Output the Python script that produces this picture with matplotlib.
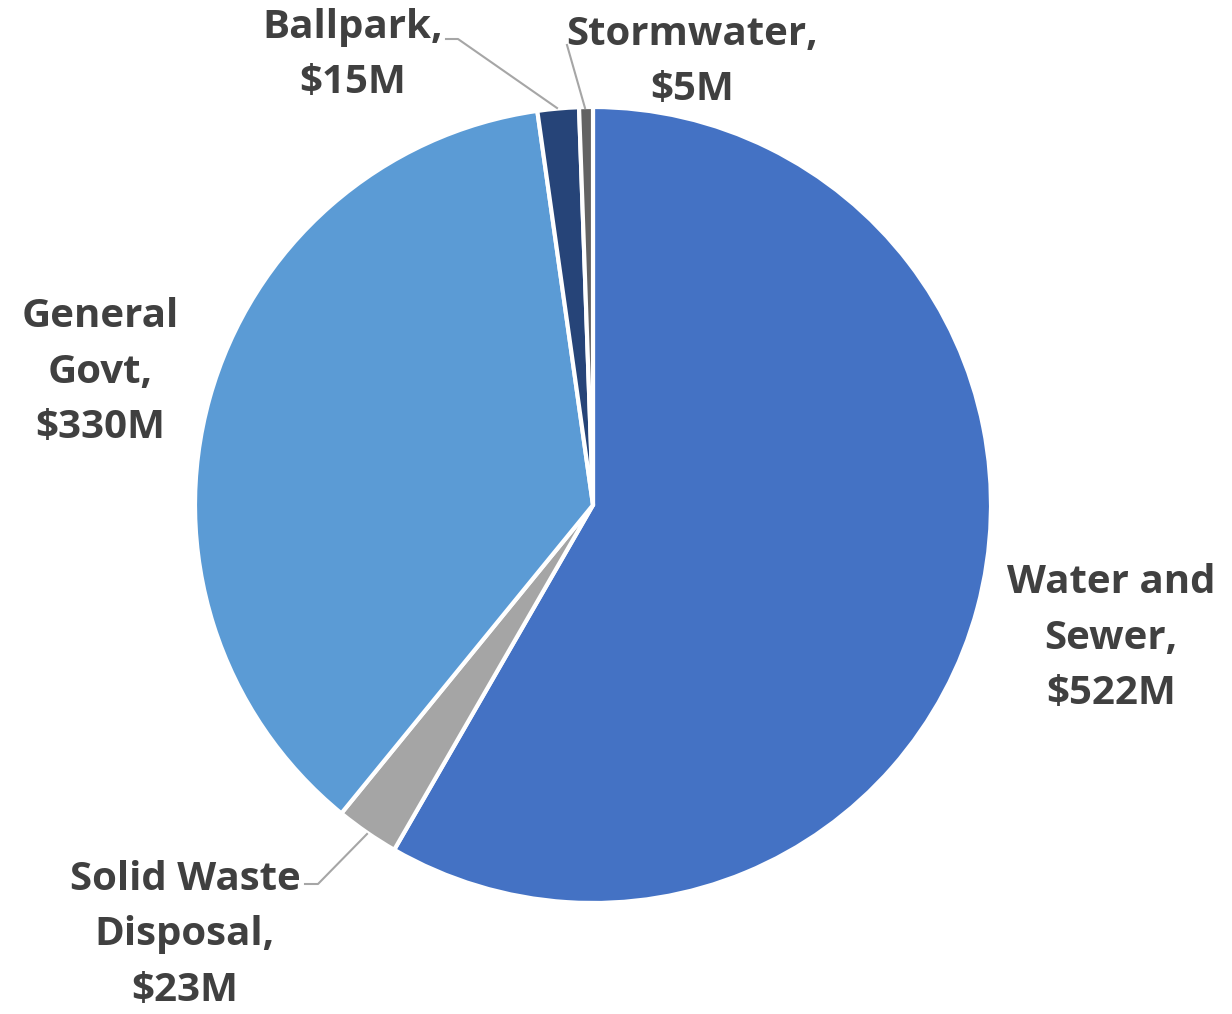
import matplotlib.pyplot as plt

# spending by fund, millions of dollars
categories = ["Water and\nSewer", "Solid Waste\nDisposal", "General\nGovt", "Ballpark", "Stormwater"]
values = [522, 23, 330, 15, 5]
colors = ["#4472C4", "#A5A5A5", "#5B9BD5", "#264478", "#636363"]

W, H = 1232, 1014
fig = plt.figure(figsize=(W / 100, H / 100), dpi=100)
ax = fig.add_axes([0, 0, 1, 1])

cx, cy, r = 593, H - 505, 398
ax.pie(values, colors=colors, startangle=90, counterclock=False,
       center=(cx, cy), radius=r, frame=True,
       wedgeprops=dict(edgecolor="white", linewidth=3))
ax.set_xlim(0, W)
ax.set_ylim(0, H)
ax.set_aspect("equal")
ax.axis("off")

# label block centres (pixels from top-left)
label_pos = [(1111, 638), (185, 935), (100, 372), (353, 55), (692, 62)]
for name, v, (x, y) in zip(categories, values, label_pos):
    txt = name + ",\n$%dM" % v
    ax.text(x, H - y, txt, ha="center", va="center", fontsize=29,
            fontweight="bold", family="Open Sans", color="#404040",
            linespacing=1.56)

# leader lines for the small slices
leaders = [
    [(305, 884), (318, 884), (367, 834)],
    [(446, 39), (458, 39), (557, 108)],
    [(567, 45), (585, 108)],
]
for pts in leaders:
    xs = [p[0] for p in pts]
    ys = [H - p[1] for p in pts]
    ax.plot(xs, ys, color="#A6A6A6", linewidth=1.5)

fig.savefig("out.png", dpi=100)
